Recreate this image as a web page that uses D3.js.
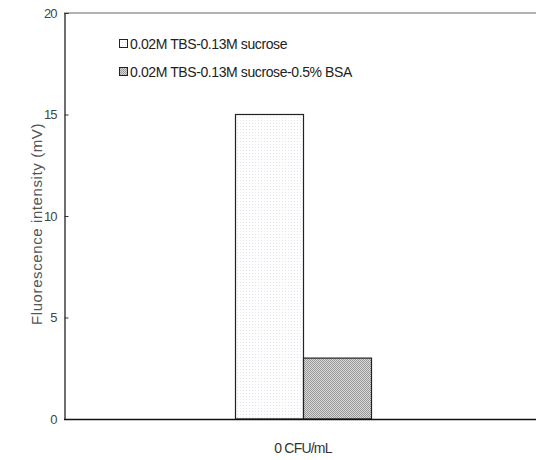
<!DOCTYPE html>
<style>
  body { margin: 0; background: #fff; }
  text { font-family: "Liberation Sans Narrow", "Liberation Sans", sans-serif; }
</style>
<body>
  <div id="svg_frame"></div>
</body>
<script src="https://cdnjs.cloudflare.com/ajax/libs/d3/7.8.5/d3.min.js"></script>
<script>
  // data
  var categories = ["0 CFU/mL"];
  var seriesNames = ["0.02M TBS-0.13M sucrose", "0.02M TBS-0.13M sucrose-0.5% BSA"];
  var seriesValues = [[15], [3]];
  var yTicks = [0, 5, 10, 15, 20];

  var width = 536, height = 460;
  var margin = { top: 13, right: 0, bottom: 41, left: 64 };

  var svg = d3.select("#svg_frame").append("svg")
    .attr("width", width)
    .attr("height", height);

  var defs = svg.append("defs");
  // light dotted pattern
  var p1 = defs.append("pattern").attr("id", "dots")
    .attr("width", 3).attr("height", 3).attr("patternUnits", "userSpaceOnUse");
  p1.append("rect").attr("width", 3).attr("height", 3).attr("fill", "#fff");
  p1.append("rect").attr("width", 1).attr("height", 1).attr("fill", "#e2e2ea");
  // gray checker pattern
  var p2 = defs.append("pattern").attr("id", "checker")
    .attr("width", 2).attr("height", 2).attr("patternUnits", "userSpaceOnUse");
  p2.append("rect").attr("width", 2).attr("height", 2).attr("fill", "#d8d8d8");
  p2.append("rect").attr("width", 1).attr("height", 1).attr("fill", "#9a9a9a");
  p2.append("rect").attr("x", 1).attr("y", 1).attr("width", 1).attr("height", 1).attr("fill", "#9a9a9a");

  var fills = ["url(#dots)", "url(#checker)"];

  var y = d3.scaleLinear().domain([0, 20]).range([height - margin.bottom, margin.top]);
  var x0 = d3.scaleBand().domain(categories).range([margin.left + 6, width]);
  var x1 = d3.scaleBand().domain(d3.range(seriesNames.length)).range([0, 136]);

  // top frame line
  svg.append("line")
    .attr("x1", margin.left).attr("x2", width)
    .attr("y1", y(20)).attr("y2", y(20))
    .attr("stroke", "#999").attr("stroke-width", 1.5);

  // bars
  categories.forEach(function (c, ci) {
    var cx = x0(c) + x0.bandwidth() / 2 - 68;
    seriesValues.forEach(function (vals, si) {
      svg.append("rect")
        .attr("x", cx + x1(si) + 0.5)
        .attr("y", y(vals[ci]))
        .attr("width", x1.bandwidth())
        .attr("height", y(0) - y(vals[ci]))
        .attr("fill", fills[si])
        .attr("stroke", "#222")
        .attr("stroke-width", 1.2);
    });
  });

  // y axis
  var yAxis = svg.append("g")
    .attr("transform", "translate(" + (margin.left + 0.5) + ",0)")
    .call(d3.axisRight(y).tickValues(yTicks).tickSize(4).tickFormat(d3.format("d")));
  yAxis.select(".domain").attr("stroke", "#111").attr("stroke-width", 1.2);
  yAxis.selectAll(".tick line").attr("stroke", "#333");
  yAxis.selectAll(".tick text")
    .attr("x", -8).attr("text-anchor", "end")
    .attr("font-size", 13).attr("fill", "#444")
    .attr("letter-spacing", "-1px")
    .style("font-family", "'Liberation Sans Narrow', sans-serif");

  // x axis
  svg.append("line")
    .attr("x1", margin.left).attr("x2", width)
    .attr("y1", y(0) + 0.5).attr("y2", y(0) + 0.5)
    .attr("stroke", "#111").attr("stroke-width", 1.3);

  svg.append("text")
    .attr("x", x0(categories[0]) + x0.bandwidth() / 2)
    .attr("y", 453)
    .attr("text-anchor", "middle")
    .attr("font-size", 14).attr("fill", "#333")
    .attr("letter-spacing", "-0.8px")
    .text(categories[0]);

  // y label
  svg.append("text")
    .attr("transform", "translate(42,224) rotate(-90)")
    .attr("text-anchor", "middle")
    .attr("font-size", 15).attr("fill", "#555")
    .attr("letter-spacing", "0.6px")
    .style("font-family", "'Liberation Sans', sans-serif")
    .text("Fluorescence intensity (mV)");

  // legend
  var legend = svg.append("g").attr("transform", "translate(119,39)");
  seriesNames.forEach(function (n, i) {
    var g = legend.append("g").attr("transform", "translate(0," + (i * 28) + ")");
    g.append("rect").attr("x", 0.5).attr("y", 0.5).attr("width", 8).attr("height", 8)
      .attr("fill", fills[i]).attr("stroke", "#222").attr("stroke-width", 1);
    g.append("text").attr("x", 11).attr("y", 10)
      .attr("font-size", 14).attr("fill", "#222")
      .attr("letter-spacing", "-0.4px")
      .text(n);
  });
</script>
